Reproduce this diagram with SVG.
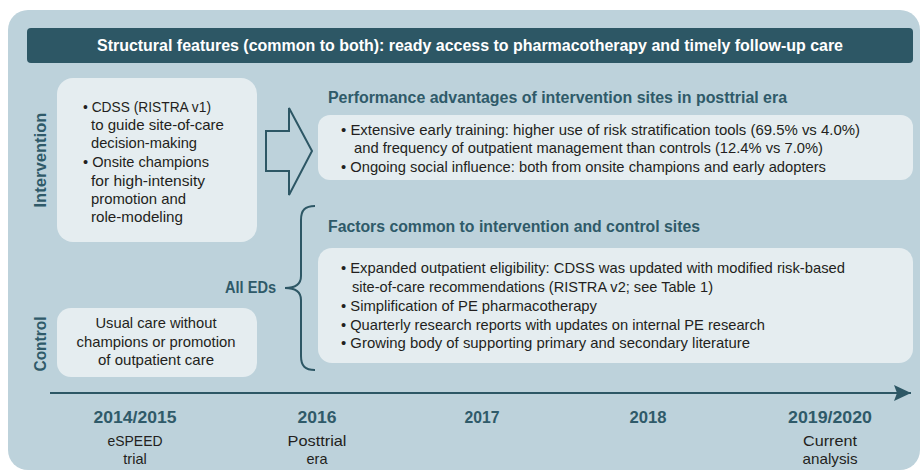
<svg xmlns="http://www.w3.org/2000/svg" width="923" height="475" viewBox="0 0 923 475">
<style>
text{font-family:"Liberation Sans",Arial,sans-serif}
.body{font-size:14.5px;fill:#231f20}
.ttl{font-size:16px;font-weight:bold;fill:#2f5a69}
.yr{font-size:16px;font-weight:bold;fill:#2f5a69}
.hdr{font-size:16px;font-weight:bold;fill:#ffffff}
.box{fill:#e5edf0}
.ln{fill:none;stroke:#2d5765;stroke-width:2}
</style>
<defs>
<marker id="ah" markerWidth="18" markerHeight="16" refX="17" refY="8" orient="auto" markerUnits="userSpaceOnUse">
<path d="M0,0 L17,8 L0,16 L3,8 Z" fill="#2d5765"/>
</marker>
</defs>
<rect x="8" y="10" width="912" height="460" rx="20" fill="#bdd2db"/>
<g id="header">
<rect x="27" y="28" width="886" height="35" rx="4" fill="#2d5765"/>
<text class="hdr" x="470" y="51" text-anchor="middle" textLength="746" lengthAdjust="spacingAndGlyphs">Structural features (common to both): ready access to pharmacotherapy and timely follow-up care</text>
</g>
<g id="label-intervention">
<text class="ttl" transform="translate(46,160) rotate(-90)" text-anchor="middle" textLength="95" lengthAdjust="spacingAndGlyphs">Intervention</text>
</g>
<g id="label-control">
<text class="ttl" transform="translate(46,344) rotate(-90)" text-anchor="middle" textLength="55" lengthAdjust="spacingAndGlyphs">Control</text>
</g>
<g id="intervention">
<rect class="box" x="57" y="78" width="200" height="164" rx="16"/>
<text class="body" x="83" y="112" textLength="128" lengthAdjust="spacingAndGlyphs">• CDSS (RISTRA v1)</text>
<text class="body" x="91" y="130" textLength="133" lengthAdjust="spacingAndGlyphs">to guide site-of-care</text>
<text class="body" x="91" y="148" textLength="106" lengthAdjust="spacingAndGlyphs">decision-making</text>
<text class="body" x="83" y="167" textLength="126" lengthAdjust="spacingAndGlyphs">• Onsite champions</text>
<text class="body" x="91" y="186" textLength="114" lengthAdjust="spacingAndGlyphs">for high-intensity</text>
<text class="body" x="91" y="204" textLength="95" lengthAdjust="spacingAndGlyphs">promotion and</text>
<text class="body" x="91" y="222" textLength="92" lengthAdjust="spacingAndGlyphs">role-modeling</text>
</g>
<g id="control">
<rect class="box" x="57" y="308" width="200" height="69" rx="14"/>
<text class="body" x="156" y="328" text-anchor="middle" textLength="121" lengthAdjust="spacingAndGlyphs">Usual care without</text>
<text class="body" x="156" y="347" text-anchor="middle" textLength="159" lengthAdjust="spacingAndGlyphs">champions or promotion</text>
<text class="body" x="156" y="365" text-anchor="middle" textLength="116" lengthAdjust="spacingAndGlyphs">of outpatient care</text>
</g>
<g id="performance">
<text class="ttl" x="328" y="103" textLength="459" lengthAdjust="spacingAndGlyphs">Performance advantages of intervention sites in posttrial era</text>
<rect class="box" x="318" y="115" width="595" height="65" rx="12"/>
<text class="body" x="341" y="135" textLength="519" lengthAdjust="spacingAndGlyphs">• Extensive early training: higher use of risk stratification tools (69.5% vs 4.0%)</text>
<text class="body" x="354" y="153" textLength="469" lengthAdjust="spacingAndGlyphs">and frequency of outpatient management than controls (12.4% vs 7.0%)</text>
<text class="body" x="341" y="172" textLength="485" lengthAdjust="spacingAndGlyphs">• Ongoing social influence: both from onsite champions and early adopters</text>
</g>
<g id="factors">
<text class="ttl" x="328" y="232" textLength="372" lengthAdjust="spacingAndGlyphs">Factors common to intervention and control sites</text>
<rect class="box" x="318" y="248" width="595" height="115" rx="14"/>
<text class="body" x="341" y="273" textLength="504" lengthAdjust="spacingAndGlyphs">• Expanded outpatient eligibility: CDSS was updated with modified risk-based</text>
<text class="body" x="352" y="292" textLength="361" lengthAdjust="spacingAndGlyphs">site-of-care recommendations (RISTRA v2; see Table 1)</text>
<text class="body" x="341" y="311" textLength="256" lengthAdjust="spacingAndGlyphs">• Simplification of PE pharmacotherapy</text>
<text class="body" x="341" y="330" textLength="424" lengthAdjust="spacingAndGlyphs">• Quarterly research reports with updates on internal PE research</text>
<text class="body" x="341" y="348" textLength="409" lengthAdjust="spacingAndGlyphs">• Growing body of supporting primary and secondary literature</text>
</g>
<g id="all-eds">
<text class="ttl" x="276" y="293" text-anchor="end" textLength="51" lengthAdjust="spacingAndGlyphs">All EDs</text>
</g>
<g id="connectors">
<path class="ln" d="M266,131 L289,131 L289,108 L312,151 L289,195 L289,171 L266,171 Z" stroke-linejoin="miter"/>
<path class="ln" d="M315,206 C305,206 301,210 301,220 L301,276 C301,284 296,288 285,288 C296,288 301,292 301,300 L301,356 C301,366 305,370 315,370"/>
<line class="ln" x1="50" y1="393" x2="911" y2="393" marker-end="url(#ah)"/>
</g>
<g id="timeline">
<text class="yr" x="135" y="423" text-anchor="middle" textLength="83" lengthAdjust="spacingAndGlyphs">2014/2015</text>
<text class="body" x="135" y="446" text-anchor="middle" textLength="55" lengthAdjust="spacingAndGlyphs">eSPEED</text>
<text class="body" x="135" y="464" text-anchor="middle">trial</text>
<text class="yr" x="317" y="423" text-anchor="middle" textLength="39" lengthAdjust="spacingAndGlyphs">2016</text>
<text class="body" x="317" y="446" text-anchor="middle" textLength="59" lengthAdjust="spacingAndGlyphs">Posttrial</text>
<text class="body" x="317" y="464" text-anchor="middle">era</text>
<text class="yr" x="482" y="423" text-anchor="middle" textLength="35" lengthAdjust="spacingAndGlyphs">2017</text>
<text class="yr" x="648" y="423" text-anchor="middle" textLength="37" lengthAdjust="spacingAndGlyphs">2018</text>
<text class="yr" x="830" y="423" text-anchor="middle" textLength="84" lengthAdjust="spacingAndGlyphs">2019/2020</text>
<text class="body" x="830" y="446" text-anchor="middle" textLength="54" lengthAdjust="spacingAndGlyphs">Current</text>
<text class="body" x="830" y="464" text-anchor="middle" textLength="55" lengthAdjust="spacingAndGlyphs">analysis</text>
</g>
</svg>
